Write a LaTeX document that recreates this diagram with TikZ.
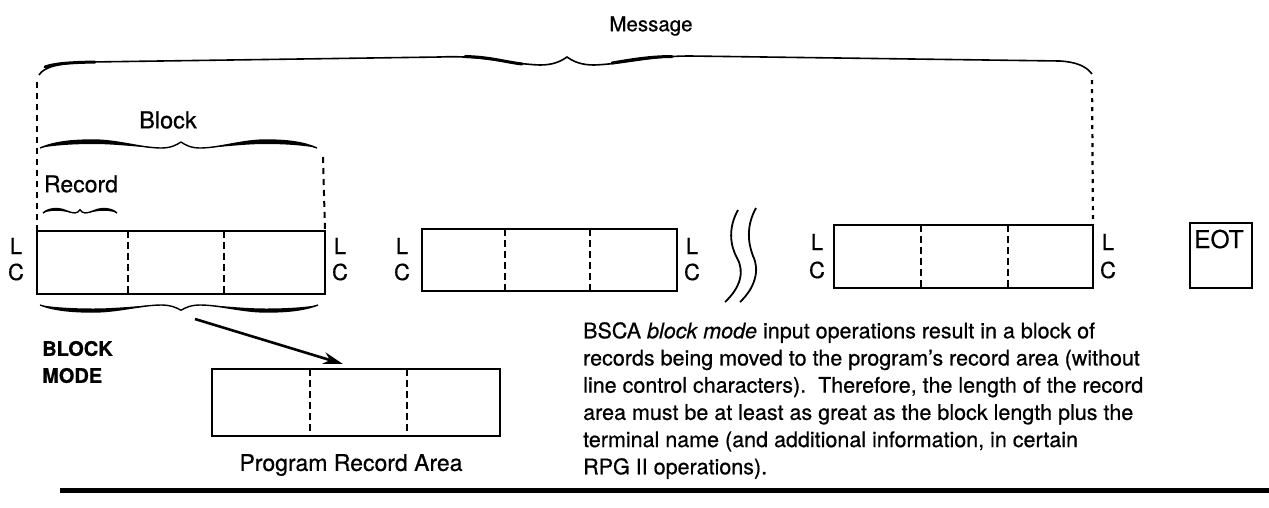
\documentclass[tikz,border=0pt]{standalone}
\usepackage{fontspec}
\setmainfont{TeX Gyre Heros}[FakeBold=0.6]
\usetikzlibrary{arrows.meta,calc}
\newcommand{\myhalfbrace}[4]{%
  \begin{scope}[shift={(#1,#2)},x={(#3pt,0pt)},y={(0pt,#4pt)}]
    \fill (0,0) .. controls (0.1,0.75) and (0.22,1) .. (0.38,1) .. controls (0.55,1) and (0.72,0) .. (0.86,0)
      .. controls (0.72,0.05) and (0.55,0.5) .. (0.38,0.5) .. controls (0.24,0.5) and (0.1,0.35) .. (0,0) -- cycle;
    \draw[line width=1.4pt] (0,0) .. controls (0.1,0.75) and (0.22,1) .. (0.38,1) .. controls (0.55,1) and (0.72,0) .. (0.86,0) .. controls (0.93,0) and (0.97,0.4) .. (1,0.75);
  \end{scope}}
\newcommand{\myfullbrace}[5]{%
  \pgfmathsetmacro\mybwl{#3-#1}\pgfmathsetmacro\mybwr{#3-#2}%
  \myhalfbrace{#1}{#4}{\mybwl}{#5}\myhalfbrace{#2}{#4}{\mybwr}{#5}}
\tikzset{
  box/.style={draw,line width=2.6pt,rectangle,inner sep=0pt,outer sep=0pt},
  divline/.style={line width=2.4pt,dash pattern=on 7pt off 4pt},
  guide/.style={line width=2pt,dash pattern=on 6pt off 5pt},
  guidedot/.style={line width=2.2pt,dash pattern=on 4pt off 5pt},
  lbl/.style={font=\fontsize{22}{24}\selectfont,inner sep=0pt},
  brk/.style={line width=1.8pt}
}
\begin{document}
\begin{tikzpicture}[x=1pt,y=-1pt]
\useasboundingbox (0,0) rectangle (1269,507);

% titles
\node[lbl,font=\fontsize{20.5}{24}\selectfont] (msg) at (651,26) {Message};
\node[lbl,font=\fontsize{23.5}{24}\selectfont] (blk) at (168,120) {Block};
\node[lbl,font=\fontsize{23}{24}\selectfont] (rec) at (81,184) {Record};

% message brace
\draw[line width=1.6pt] (39,75) .. controls (44,67) and (58,63) .. (90,62) -- (440,57)
  .. controls (480,55) and (510,64) .. (540,65) .. controls (552,65) and (560,62) .. (567,57)
  .. controls (574,62) and (582,65) .. (594,65) .. controls (624,64) and (650,56) .. (690,56)
  -- (1060,61) .. controls (1076,62) and (1086,66) .. (1092,74);
\draw[line width=3pt,line cap=round] (45,67) .. controls (55,63.5) and (70,62.5) .. (95,62);
\draw[line width=3pt,line cap=round] (465,56.5) .. controls (490,57) and (505,62) .. (522,64);
\draw[line width=3pt,line cap=round] (612,63) .. controls (630,60) and (650,56.5) .. (672,56.5);

% block and record braces
\myfullbrace{40}{317}{181}{148}{8}
\myfullbrace{43}{117}{80}{213}{4.5}
\myfullbrace{40}{318}{181}{305}{-7}

% boxes
\node[box,minimum width=288pt,minimum height=63pt] (b1) at (181,262.5) {};
\node[box,minimum width=255pt,minimum height=62pt] (b2) at (549.5,260) {};
\node[box,minimum width=259pt,minimum height=63pt] (b3) at (963.5,256.5) {};
\node[box,minimum width=62pt,minimum height=65pt] (eot) at (1221,255.5) {};
\node[box,minimum width=288pt,minimum height=67pt] (pra) at (356,402.5) {};

% dividers
\draw[divline] (128,231) -- (128,294);
\draw[divline] (224,231) -- (224,294);
\draw[divline] (505,229) -- (505,291);
\draw[divline] (590,229) -- (590,291);
\draw[divline] (921,225) -- (921,288);
\draw[divline] (1008,225) -- (1008,288);
\draw[divline] (310,369) -- (310,436);
\draw[divline] (407,369) -- (407,436);

% guide lines
\coordinate (gl) at (37,82);
\coordinate (gb) at (323,157);
\coordinate (gr) at (1092,80);
\draw[guide] (gl) -- (b1.north west);
\draw[guide] (gb) -- (b1.north east);
\draw[guidedot] (gr) -- (b3.north east);

% L C labels
\node[lbl] (l1a) at (16,246) {L};   \node[lbl] (c1a) at (16,272) {C};
\node[lbl] (l1b) at (340,246) {L};  \node[lbl] (c1b) at (340,272) {C};
\node[lbl] (l2a) at (402,246) {L};  \node[lbl] (c2a) at (402,272) {C};
\node[lbl] (l2b) at (692,246) {L};  \node[lbl] (c2b) at (692,272) {C};
\node[lbl] (l3a) at (817,242) {L};  \node[lbl] (c3a) at (817,270) {C};
\node[lbl] (l3b) at (1108,242) {L}; \node[lbl] (c3b) at (1108,270) {C};
\node[lbl,font=\fontsize{24.5}{26}\selectfont,anchor=base west] (eott) at (1194,248) {EOT};

% break marks
\draw[brk] (738,210) .. controls (728,228) and (730,245) .. (737,258) .. controls (745,272) and (740,288) .. (725,302);
\draw[brk] (756,208) .. controls (746,226) and (748,243) .. (753,256) .. controls (760,270) and (755,288) .. (740,302);

% arrow
\coordinate (atail) at (195,319);
\coordinate (ahead) at (343,364);
\draw[line width=2.6pt,-{Stealth[length=20pt,width=12pt]}] (atail) -- (ahead);

% block mode label
\node[lbl,font=\fontsize{20}{27}\selectfont\bfseries,anchor=west,align=left] (bm) at (42,362) {BLOCK\\MODE};

\node[lbl,font=\fontsize{23}{24}\selectfont] (pral) at (351,465) {Program Record Area};

% paragraph
\node[anchor=north west,inner sep=0pt,align=left,font=\fontsize{21.5}{27.2}\selectfont] (para) at (583,322) {%
BSCA \textit{block mode} input operations result in a block of\\
records being moved to the program’s record area (without\\
line control characters).\ \ Therefore, the length of the record\\
area must be at least as great as the block length plus the\\
terminal name (and additional information, in certain\\
RPG II operations).};

% bottom rule
\coordinate (rl) at (60,490);
\coordinate (rr) at (1269,490);
\draw[line width=5pt] (rl) -- (rr);
\end{tikzpicture}
\end{document}
